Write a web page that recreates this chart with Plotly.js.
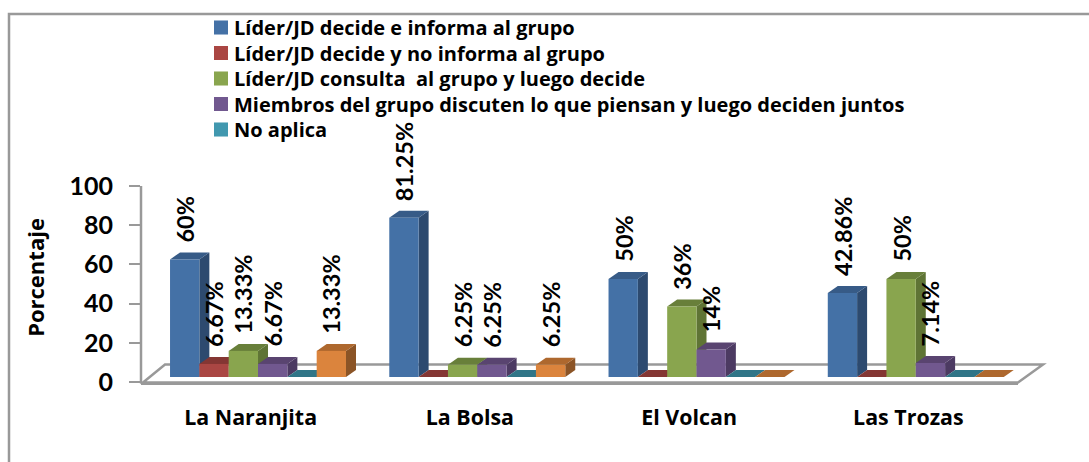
<!DOCTYPE html>
<html><head><meta charset="utf-8">
<script src="https://cdn.plot.ly/plotly-3.0.1.min.js"></script>
<style>html,body{margin:0;padding:0;background:#fff}#c{width:1089px;height:462px}</style>
</head><body><div id="c"></div>
<script>
const categories = ["La Naranjita", "La Bolsa", "El Volcan", "Las Trozas"];
const lider_informa = [60, 81.25, 50, 42.86];
const lider_no_informa = [6.67, 0, 0, 0];
const lider_consulta = [13.33, 6.25, 36, 50];
const miembros = [6.67, 6.25, 14, 7.14];
const no_aplica = [0, 0, 0, 0];
const sin_nombre = [13.33, 6.25, 0, 0];
const yTicks = [0, 20, 40, 60, 80, 100];

const series = [
  {name:"Líder/JD decide e informa al grupo", y:lider_informa, front:"#4471A6", side:"#2D4A6F", top:"#375B87"},
  {name:"Líder/JD decide y no informa al grupo", y:lider_no_informa, front:"#AA4643", side:"#7C3230", top:"#843633"},
  {name:"Líder/JD consulta  al grupo y luego decide", y:lider_consulta, front:"#89A54E", side:"#5F7435", top:"#687F3A"},
  {name:"Miembros del grupo discuten lo que piensan y luego deciden juntos", y:miembros, front:"#71588F", side:"#4C3A62", top:"#594470"},
  {name:"No aplica", y:no_aplica, front:"#4198AF", side:"#2C6D80", top:"#307587"},
  {name:"", y:sin_nombre, front:"#DB843D", side:"#8B5426", top:"#AE682E"}
];

const W=1089,H=462, L=141,R=1018,T=173,B=382;
const pxPerX=(R-L)/4, pxPerY=1.96;
const yMax=(B-T)/pxPerY;
const barW=29.33/pxPerX, base=2.55, dx=10/pxPerX, dy=7/pxPerY;
const off0=-80.6/pxPerX;
const px=x=>(x-L)/(R-L), py=y=>(B-y)/(B-T);
const GRAY="#999999";
const FONT="Open Sans";

const traces=[], shapes=[], annotations=[];
shapes.push({type:"path",xref:"paper",yref:"paper",layer:"below",
  path:`M${px(9)},${py(462)}L${px(9)},${py(14)}L${px(1089)},${py(14)}`,line:{color:GRAY,width:2.5}});
shapes.push({type:"path",xref:"paper",yref:"paper",layer:"below",
  path:`M${px(143)},${py(382.5)}L${px(165)},${py(364.5)}L${px(1043)},${py(364.5)}L${px(1018)},${py(382.5)}Z`,
  fillcolor:"#ffffff",line:{color:GRAY,width:2.5}});
shapes.push({type:"line",xref:"paper",yref:"paper",layer:"above",
  x0:px(141),x1:px(141),y0:py(383),y1:py(186),line:{color:GRAY,width:2.5}});

series.forEach((s,i)=>{
  const off=off0+i*barW;
  traces.push({type:"bar",name:s.name,x:categories.map((c,g)=>g),y:s.y,base:base,width:barW,offset:off,
    marker:{color:s.front},showlegend:s.name!=="",hoverinfo:"skip"});
  s.y.forEach((v,g)=>{
    const xl=g+off,xr=xl+barW,yt=base+v;
    if(v>0) shapes.push({type:"path",xref:"x",yref:"y",layer:"below",fillcolor:s.side,line:{width:0},
      path:`M${xr},${base}L${xr+dx},${base+dy}L${xr+dx},${yt+dy}L${xr},${yt}Z`});
    shapes.push({type:"path",xref:"x",yref:"y",layer:"below",fillcolor:s.top,line:{width:0},
      path:`M${xl},${yt}L${xl+dx},${yt+dy}L${xr+dx},${yt+dy}L${xr},${yt}Z`});
    if(v>0) annotations.push({xref:"x",yref:"y",x:xl+barW/2,y:yt,yshift:15,text:v+"%",showarrow:false,
      textangle:-90,xanchor:"center",yanchor:"bottom",font:{family:"Lato",size:23.5,color:"#000",weight:700}});
  });
});

const layout={
  width:W,height:H,paper_bgcolor:"#fff",plot_bgcolor:"rgba(0,0,0,0)",
  margin:{l:L,r:W-R,t:T,b:H-B},barmode:"overlay",
  font:{family:FONT,color:"#000"},
  xaxis:{range:[-0.5,3.5],tickmode:"array",tickvals:categories.map((c,g)=>g),ticktext:categories,
    showgrid:false,zeroline:false,showline:true,linecolor:GRAY,linewidth:2.5,ticks:"",
    ticklabelstandoff:15,tickfont:{family:FONT,size:21.4,weight:700,color:"#000"}},
  yaxis:{range:[0,yMax],tickmode:"array",tickvals:yTicks,showgrid:false,zeroline:false,showline:false,
    ticks:"outside",ticklen:11,tickwidth:2,tickcolor:GRAY,ticklabelstandoff:11,
    tickfont:{family:"Lato",size:25,weight:700,color:"#000"},
    title:{text:"Porcentaje",standoff:18,font:{family:FONT,size:22,weight:700,color:"#000"}}},
  legend:{x:px(194),y:py(14),xanchor:"left",yanchor:"top",bgcolor:"rgba(0,0,0,0)",
    font:{family:FONT,size:20,weight:700,color:"#000"},itemclick:false,itemdoubleclick:false},
  shapes,annotations
};
Plotly.newPlot("c",traces,layout,{displayModeBar:false,staticPlot:true}).then(gd=>{
  gd.querySelectorAll(".legend .legendbar path, .legend .legendpoints path").forEach(p=>{
    const m=/translate\(([-\d.]+),\s*([-\d.]+)\)/.exec(p.getAttribute("transform")||"");
    if(m) p.setAttribute("transform",`translate(${+m[1]+7},${m[2]}) scale(1.17)`);
  });
  let y0=null;
  gd.querySelectorAll(".legend .traces").forEach((g,i)=>{
    const m=/translate\(([-\d.]+),\s*([-\d.]+)\)/.exec(g.getAttribute("transform")||"");
    if(!m) return;
    if(y0===null) y0=+m[2];
    g.setAttribute("transform",`translate(${m[1]},${y0+i*25.5})`);
  });
  const lg=gd.querySelector(".legend");
  const m=/translate\(([-\d.]+),\s*([-\d.]+)\)/.exec(lg.getAttribute("transform")||"");
  if(m) lg.setAttribute("transform",`translate(${m[1]},${+m[2]-6})`);
});
</script></body></html>
